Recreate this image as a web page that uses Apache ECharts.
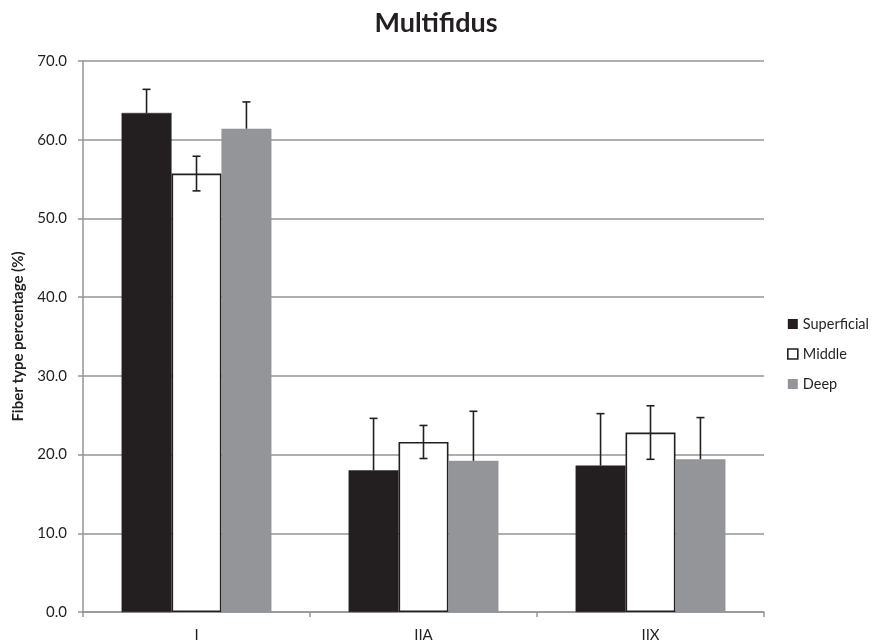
<!DOCTYPE html>
<html>
<head>
<meta charset="utf-8">
<script src="https://cdn.jsdelivr.net/npm/echarts@6/dist/echarts.min.js"></script>
<style>html,body{margin:0;padding:0;background:#fff}#c{width:872px;height:644px}</style>
</head>
<body>
<div id="c"></div>
<script>
var categories = ['I', 'IIA', 'IIX'];
var seriesNames = ['Superficial', 'Middle', 'Deep'];
var superficial = [63.4, 18.0, 18.6];
var middle = [55.7, 21.6, 22.8];
var deep = [61.4, 19.2, 19.4];
var superficialSD = [3.0, 6.6, 6.6];
var middleSD = [2.2, 2.1, 3.4];
var deepSD = [3.4, 6.3, 5.3];
var yTicks = [0, 10, 20, 30, 40, 50, 60, 70];

var values = [superficial, middle, deep];
var sds = [superficialSD, middleSD, deepSD];
var showLower = [false, true, false];
var colors = ['#231f20', '#ffffff', '#939598'];
var FONT = 'Lato';
var GAP = 0.34;

function errSeries(idx) {
  var data = categories.map(function (c, i) { return [i, values[idx][i], sds[idx][i]]; });
  return {
    type: 'custom',
    name: 'err' + idx,
    z: 5,
    silent: true,
    data: data,
    renderItem: function (params, api) {
      var ci = api.value(0), v = api.value(1), sd = api.value(2);
      var band = api.size([1, 0])[0];
      var bw = band * (1 - GAP) / 3;
      var base = api.coord([ci, v]);
      var x = base[0] + (idx - 1) * bw;
      var yTop = api.coord([ci, v + sd])[1];
      var yBot = showLower[idx] ? api.coord([ci, v - sd])[1] : base[1];
      var cap = 4;
      var st = { stroke: '#231f20', lineWidth: 1.6 };
      var kids = [
        { type: 'line', shape: { x1: x, y1: yTop, x2: x, y2: yBot }, style: st },
        { type: 'line', shape: { x1: x - cap, y1: yTop, x2: x + cap, y2: yTop }, style: st }
      ];
      if (showLower[idx]) {
        kids.push({ type: 'line', shape: { x1: x - cap, y1: yBot, x2: x + cap, y2: yBot }, style: st });
      }
      return { type: 'group', children: kids };
    }
  };
}

var series = seriesNames.map(function (n, idx) {
  return {
    type: 'bar',
    name: n,
    data: values[idx],
    barGap: '0%',
    barCategoryGap: (GAP * 100) + '%',
    itemStyle: {
      color: colors[idx],
      borderColor: idx === 1 ? '#231f20' : colors[idx],
      borderWidth: idx === 1 ? 1.6 : 0.5
    }
  };
});
for (var k = 0; k < 3; k++) series.push(errSeries(k));

var chart = echarts.init(document.getElementById('c'), null, { renderer: 'canvas' });
chart.setOption({
  animation: false,
  backgroundColor: '#ffffff',
  textStyle: { fontFamily: FONT },
  title: {
    text: 'Multifidus',
    left: 'center',
    top: 5,
    textStyle: { fontFamily: FONT, fontWeight: 'bold', fontSize: 27, color: '#231f20' }
  },
  legend: {
    orient: 'vertical',
    left: 787,
    top: 316,
    padding: 0,
    itemWidth: 10,
    itemHeight: 10,
    itemGap: 14,
    icon: 'rect',
    textStyle: { fontFamily: FONT, fontSize: 14.5, color: '#231f20', lineHeight: 16 },
    data: seriesNames.map(function (n, idx) {
      return {
        name: n,
        itemStyle: { color: colors[idx], borderColor: '#231f20', borderWidth: idx === 1 ? 1.6 : 0 }
      };
    })
  },
  grid: { left: 83, right: 108, top: 61, bottom: 32, containLabel: false, outerBoundsMode: 'none' },
  xAxis: {
    type: 'category',
    data: categories,
    axisLine: { lineStyle: { color: '#939598', width: 1.5 } },
    axisTick: { show: true, length: 5, lineStyle: { color: '#939598', width: 1.5 } },
    axisLabel: { fontFamily: FONT, fontSize: 15, color: '#231f20', margin: 16 }
  },
  yAxis: {
    type: 'value',
    min: yTicks[0],
    max: yTicks[yTicks.length - 1],
    interval: 10,
    name: 'Fiber type percentage (%)',
    nameLocation: 'middle',
    nameGap: 57,
    nameTextStyle: { fontFamily: FONT, fontWeight: 'bold', fontSize: 15, color: '#231f20' },
    axisLine: { show: true, lineStyle: { color: '#939598', width: 1.5 } },
    axisTick: { show: true, length: 5, lineStyle: { color: '#939598', width: 1.5 } },
    splitLine: { lineStyle: { color: '#939598', width: 1.5 } },
    axisLabel: {
      fontFamily: FONT, fontSize: 15, color: '#231f20', margin: 16,
      formatter: function (v) { return v.toFixed(1); }
    }
  },
  series: series
});
</script>
</body>
</html>
